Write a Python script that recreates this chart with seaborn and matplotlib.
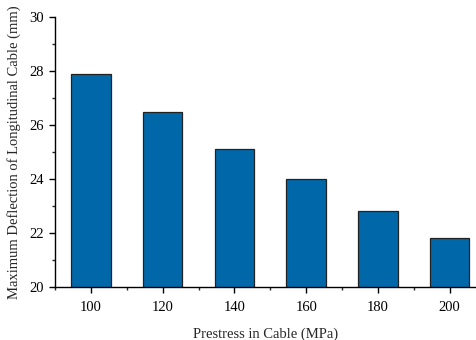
import matplotlib
matplotlib.use("Agg")
import matplotlib.pyplot as plt
from matplotlib.ticker import FixedLocator, MultipleLocator
import seaborn as sns
import pandas as pd

prestress = ["100", "120", "140", "160", "180", "200"]
deflection = [27.9, 26.5, 25.1, 24.0, 22.8, 21.8]

df = pd.DataFrame({"Prestress": prestress, "Deflection": deflection})

sns.set_style("ticks")
plt.rcParams["font.family"] = ["Liberation Serif", "DejaVu Serif"]

fig = plt.figure(figsize=(4.77, 3.40), dpi=100)
ax = fig.add_axes([55 / 477, 1 - 287 / 340, 1 - 55 / 477, (287 - 17) / 340])

sns.barplot(data=df, x="Prestress", y="Deflection", ax=ax, width=0.55,
            color="#0067A9", saturation=1, edgecolor="#222222", linewidth=0.9)

ax.set_ylim(20, 30)
ax.set_xlim(-0.5, 5.38)
ax.yaxis.set_major_locator(MultipleLocator(2))
ax.yaxis.set_minor_locator(MultipleLocator(1))
ax.xaxis.set_minor_locator(FixedLocator([i + 0.5 for i in range(-1, 6)]))

for side in ("top", "right"):
    ax.spines[side].set_visible(False)
for side in ("left", "bottom"):
    ax.spines[side].set_linewidth(1.0)
    ax.spines[side].set_color("black")

ax.tick_params(axis="both", which="major", direction="out", length=4, width=1,
               labelsize=10.5, colors="black")
ax.tick_params(axis="x", which="major", pad=6)
ax.tick_params(axis="y", which="major", pad=4)
ax.tick_params(axis="both", which="minor", direction="out", length=2.5, width=1)

ax.set_xlabel("Prestress in Cable (MPa)", fontsize=10.5, labelpad=10)
ax.set_ylabel("Maximum Deflection of Longitudinal Cable (mm)", fontsize=10.5, labelpad=6)

fig.savefig("out.png", dpi=100)
